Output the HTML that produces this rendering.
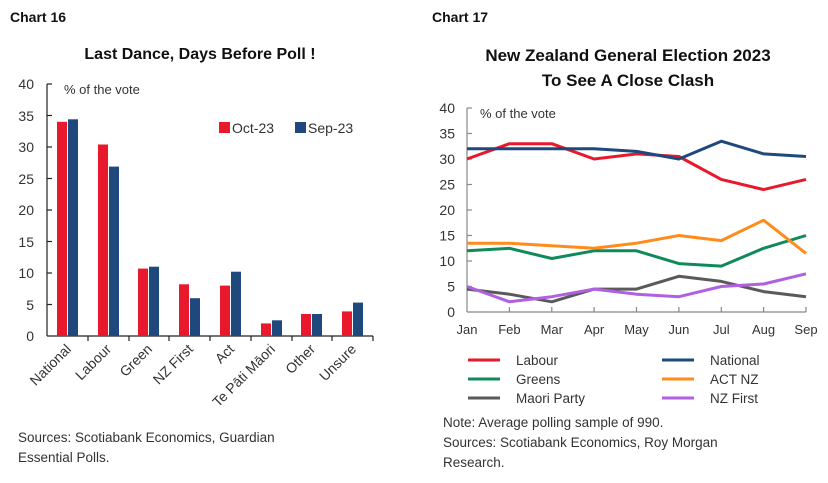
<!DOCTYPE html>
<html><head><meta charset="utf-8"><style>
body{margin:0;background:#fff}
svg{display:block;font-family:"Liberation Sans",sans-serif}
</style></head><body>
<svg width="828" height="483" viewBox="0 0 828 483">
<rect width="828" height="483" fill="#fff"/>
<text x="10" y="22" font-size="14" font-weight="bold" fill="#111">Chart 16</text>
<text x="432" y="22" font-size="14" font-weight="bold" fill="#111">Chart 17</text>
<text x="200" y="59" font-size="16" font-weight="bold" text-anchor="middle" fill="#111">Last Dance, Days Before Poll !</text>
<text x="628" y="61" font-size="17" font-weight="bold" text-anchor="middle" fill="#111">New Zealand General Election 2023</text>
<text x="628" y="86" font-size="17" font-weight="bold" text-anchor="middle" fill="#111">To See A Close Clash</text>

<!-- Left chart -->
<g font-size="14" fill="#333" text-anchor="end">
<text x="34" y="341">0</text><text x="34" y="310">5</text><text x="34" y="278">10</text><text x="34" y="247">15</text><text x="34" y="215">20</text><text x="34" y="184">25</text><text x="34" y="152">30</text><text x="34" y="121">35</text><text x="34" y="89">40</text>
</g>
<text x="64" y="94" font-size="13" fill="#333">% of the vote</text>
<g stroke="#222" stroke-width="1.2">
<line x1="47" y1="84" x2="47" y2="336"/><line x1="47" y1="336" x2="373" y2="336"/>
<line x1="47" y1="84" x2="52" y2="84"/><line x1="47" y1="115.5" x2="52" y2="115.5"/><line x1="47" y1="147" x2="52" y2="147"/><line x1="47" y1="178.5" x2="52" y2="178.5"/><line x1="47" y1="210" x2="52" y2="210"/><line x1="47" y1="241.5" x2="52" y2="241.5"/><line x1="47" y1="273" x2="52" y2="273"/><line x1="47" y1="304.5" x2="52" y2="304.5"/>
<line x1="88" y1="336" x2="88" y2="341"/><line x1="129" y1="336" x2="129" y2="341"/><line x1="169" y1="336" x2="169" y2="341"/><line x1="210" y1="336" x2="210" y2="341"/><line x1="251" y1="336" x2="251" y2="341"/><line x1="292" y1="336" x2="292" y2="341"/><line x1="332" y1="336" x2="332" y2="341"/><line x1="373" y1="336" x2="373" y2="341"/>
</g>
<g fill="#e8192c">
<rect x="57" y="121.8" width="10" height="214.2"/>
<rect x="98" y="144.5" width="10" height="191.5"/>
<rect x="138" y="268.6" width="10" height="67.4"/>
<rect x="179" y="284.3" width="10" height="51.7"/>
<rect x="220" y="285.6" width="10" height="50.4"/>
<rect x="261" y="323.4" width="10" height="12.6"/>
<rect x="301" y="314" width="10" height="22"/>
<rect x="342" y="311.4" width="10" height="24.6"/>
</g>
<g fill="#1f497d">
<rect x="68" y="119.3" width="10" height="216.7"/>
<rect x="109" y="166.6" width="10" height="169.4"/>
<rect x="149" y="266.7" width="10" height="69.3"/>
<rect x="190" y="298.2" width="10" height="37.8"/>
<rect x="231" y="271.7" width="10" height="64.3"/>
<rect x="272" y="320.3" width="10" height="15.7"/>
<rect x="312" y="314" width="10" height="22"/>
<rect x="353" y="302.6" width="10" height="33.4"/>
</g>
<rect x="219" y="122" width="11" height="11" fill="#e8192c"/><text x="232" y="133" font-size="14" fill="#333">Oct-23</text>
<rect x="295" y="122" width="11" height="11" fill="#1f497d"/><text x="308" y="133" font-size="14" fill="#333">Sep-23</text>
<g font-size="14" fill="#333" text-anchor="end">
<text transform="translate(72,350) rotate(-45)">National</text>
<text transform="translate(112,350) rotate(-45)">Labour</text>
<text transform="translate(153,350) rotate(-45)">Green</text>
<text transform="translate(194,350) rotate(-45)">NZ First</text>
<text transform="translate(235,350) rotate(-45)">Act</text>
<text transform="translate(276,350) rotate(-45)">Te Pāti Māori</text>
<text transform="translate(316,350) rotate(-45)">Other</text>
<text transform="translate(357,350) rotate(-45)">Unsure</text>
</g>
<text x="18" y="442" font-size="13.5" fill="#333">Sources: Scotiabank Economics, Guardian</text>
<text x="18" y="462" font-size="13.5" fill="#333">Essential Polls.</text>

<!-- Right chart -->
<g font-size="14" fill="#333" text-anchor="end">
<text x="455" y="317">0</text><text x="455" y="291.5">5</text><text x="455" y="266">10</text><text x="455" y="240.5">15</text><text x="455" y="215">20</text><text x="455" y="189.5">25</text><text x="455" y="164">30</text><text x="455" y="138.5">35</text><text x="455" y="113">40</text>
</g>
<text x="480" y="118" font-size="13" fill="#333">% of the vote</text>
<g stroke="#888" stroke-width="1.2">
<line x1="467" y1="108" x2="467" y2="312"/><line x1="467" y1="312" x2="806" y2="312"/>
<line x1="467" y1="108" x2="472" y2="108"/><line x1="467" y1="133.5" x2="472" y2="133.5"/><line x1="467" y1="159" x2="472" y2="159"/><line x1="467" y1="184.5" x2="472" y2="184.5"/><line x1="467" y1="210" x2="472" y2="210"/><line x1="467" y1="235.5" x2="472" y2="235.5"/><line x1="467" y1="261" x2="472" y2="261"/><line x1="467" y1="286.5" x2="472" y2="286.5"/>
<line x1="509.4" y1="312" x2="509.4" y2="307"/><line x1="551.8" y1="312" x2="551.8" y2="307"/><line x1="594.1" y1="312" x2="594.1" y2="307"/><line x1="636.5" y1="312" x2="636.5" y2="307"/><line x1="678.9" y1="312" x2="678.9" y2="307"/><line x1="721.3" y1="312" x2="721.3" y2="307"/><line x1="763.6" y1="312" x2="763.6" y2="307"/><line x1="806" y1="312" x2="806" y2="307"/>
</g>
<g fill="none" stroke-width="3" stroke-linejoin="round">
<polyline stroke="#5a5a5a" points="467,289.1 509.4,294.2 551.8,301.8 594.1,289.1 636.5,289.1 678.9,276.3 721.3,281.4 763.6,291.6 806,296.7"/>
<polyline stroke="#b060e0" points="467,286.5 509.4,301.8 551.8,296.7 594.1,289.1 636.5,294.2 678.9,296.7 721.3,286.5 763.6,284 806,273.8"/>
<polyline stroke="#108a5a" points="467,250.8 509.4,248.3 551.8,258.5 594.1,250.8 636.5,250.8 678.9,263.6 721.3,266.1 763.6,248.3 806,235.5"/>
<polyline stroke="#ff8c1a" points="467,243.2 509.4,243.2 551.8,245.7 594.1,248.3 636.5,243.2 678.9,235.5 721.3,240.6 763.6,220.2 806,253.4"/>
<polyline stroke="#e8192c" points="467,159 509.4,143.7 551.8,143.7 594.1,159 636.5,153.9 678.9,156.5 721.3,179.4 763.6,189.6 806,179.4"/>
<polyline stroke="#1f497d" points="467,148.8 509.4,148.8 551.8,148.8 594.1,148.8 636.5,151.4 678.9,159 721.3,141.2 763.6,153.9 806,156.5"/>
</g>
<g font-size="13" fill="#333" text-anchor="middle">
<text x="467" y="334">Jan</text><text x="509.4" y="334">Feb</text><text x="551.8" y="334">Mar</text><text x="594.1" y="334">Apr</text><text x="636.5" y="334">May</text><text x="678.9" y="334">Jun</text><text x="721.3" y="334">Jul</text><text x="763.6" y="334">Aug</text><text x="806" y="334">Sep</text>
</g>
<g stroke-width="3">
<line x1="468" y1="360" x2="500" y2="360" stroke="#e8192c"/>
<line x1="662" y1="360" x2="694" y2="360" stroke="#1f497d"/>
<line x1="468" y1="379" x2="500" y2="379" stroke="#108a5a"/>
<line x1="662" y1="379" x2="694" y2="379" stroke="#ff8c1a"/>
<line x1="468" y1="398" x2="500" y2="398" stroke="#5a5a5a"/>
<line x1="662" y1="398" x2="694" y2="398" stroke="#b060e0"/>
</g>
<g font-size="13.5" fill="#333">
<text x="516" y="365">Labour</text><text x="710" y="365">National</text>
<text x="516" y="384">Greens</text><text x="710" y="384">ACT NZ</text>
<text x="516" y="403">Maori Party</text><text x="710" y="403">NZ First</text>
<text x="443" y="427">Note: Average polling sample of 990.</text>
<text x="443" y="447">Sources: Scotiabank Economics, Roy Morgan</text>
<text x="443" y="467">Research.</text>
</g>
</svg>
</body></html>
